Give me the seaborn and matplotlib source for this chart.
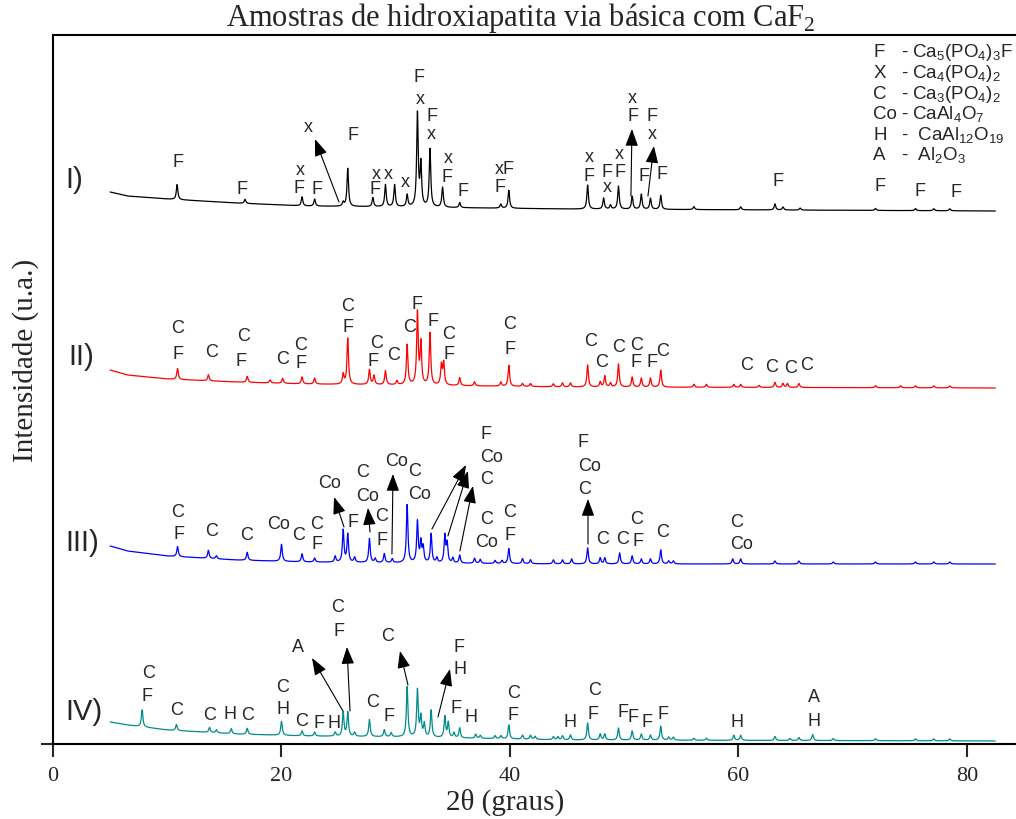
import numpy as np
import pandas as pd
import matplotlib
matplotlib.use('Agg')
import matplotlib.pyplot as plt
import seaborn as sns

sns.set_style('ticks')
plt.rcParams['font.family'] = ['Liberation Sans', 'DejaVu Sans']
SERIF = ['Liberation Serif', 'DejaVu Serif']

base_x = [5, 6.5, 10, 16, 22, 30, 45, 82.5]

base_I = [552, 548, 545, 541, 538, 537, 535, 533]
pos_I = [10.86, 16.8, 21.8, 22.9, 25.4, 25.8, 28.0, 29.1, 29.9, 31.0, 31.9, 32.2,
         33.0, 34.1, 35.6, 39.2, 39.9, 46.8, 48.2, 48.8, 49.5, 50.7, 51.5, 52.3,
         53.2, 56.1, 60.2, 63.2, 63.9, 65.4, 72.0, 75.5, 77.1, 78.5]
h_I = [15, 4, 9, 7, 4, 38, 9, 22, 22, 12, 93, 42,
       58, 20, 5, 4, 18, 24, 11, 4, 23, 13, 15, 11,
       14, 3, 3, 6, 3, 2, 2, 2, 2, 2]

base_II = [374, 369, 365, 362, 360, 359, 357, 356]
pos_II = [10.9, 13.6, 17.0, 19.0, 20.1, 21.8, 22.9, 25.4, 25.8, 27.7, 28.1, 29.1,
          30.1, 31.0, 31.9, 32.2, 33.0, 34.0, 34.2, 35.6, 36.9, 39.2, 39.9, 41.1,
          41.8, 43.8, 44.6, 45.3, 46.8, 47.9, 48.3, 48.8, 49.5, 50.7, 51.5, 52.3,
          53.2, 56.1, 57.2, 59.6, 60.2, 61.8, 63.2, 63.9, 64.3, 65.3, 72.0, 74.2,
          75.5, 77.1, 78.5]
h_II = [11, 6, 6, 3, 5, 7, 6, 10, 46, 15, 9, 14,
        4, 40, 72, 41, 52, 20, 22, 8, 4, 4, 21, 3,
        3, 3, 4, 4, 22, 5, 11, 4, 23, 10, 9, 9,
        17, 3, 3, 3, 3, 2, 5, 4, 4, 4, 2, 2,
        2, 2, 2]

base_III = [198, 193, 188, 184, 182, 181, 180, 180]
pos_III = [10.9, 13.6, 14.3, 17.0, 20.0, 21.8, 22.9, 24.7, 25.4, 25.8, 26.4, 27.7,
           28.2, 29.0, 29.7, 31.0, 31.9, 32.2, 32.4, 33.1, 33.6, 34.3, 34.5, 35.0,
           35.6, 36.9, 37.4, 38.7, 39.3, 39.9, 41.1, 41.8, 43.8, 44.6, 45.4, 46.8,
           47.9, 48.3, 49.6, 50.7, 51.5, 52.3, 53.2, 53.9, 54.3, 59.5, 60.2, 63.2,
           65.3, 68.3, 72.0, 75.5, 77.1, 78.5]
h_III = [10, 8, 3, 8, 17, 8, 4, 6, 32, 28, 5, 24,
         4, 9, 4, 58, 41, 20, 15, 29, 5, 27, 19, 5,
         8, 5, 4, 3, 3, 15, 5, 4, 4, 4, 5, 16,
         6, 6, 11, 8, 5, 5, 14, 3, 3, 5, 5, 3,
         3, 2, 2, 2, 2, 2]

base_IV = [22, 19, 14, 10, 8, 7, 4, 3]
pos_IV = [7.8, 10.8, 13.7, 14.3, 15.6, 17.0, 20.0, 21.8, 22.9, 24.7, 25.4, 25.8,
          26.4, 27.7, 29.0, 29.6, 31.0, 31.9, 32.2, 32.5, 33.1, 34.3, 34.6, 35.1,
          35.6, 37.0, 37.4, 38.7, 39.2, 39.9, 41.1, 41.8, 42.2, 43.8, 44.2, 44.6,
          45.3, 46.8, 47.9, 48.3, 49.5, 50.7, 51.5, 52.3, 53.2, 53.9, 54.3, 56.1,
          57.2, 59.6, 60.2, 63.2, 64.5, 65.3, 66.5, 68.3, 72.0, 75.5, 77.1, 78.5]
h_IV = [17, 6, 5, 3, 5, 6, 14, 5, 4, 4, 24, 24,
        4, 17, 7, 4, 50, 47, 20, 13, 27, 21, 15, 5,
        10, 4, 3, 3, 3, 14, 4, 4, 3, 3, 3, 4,
        5, 17, 6, 6, 12, 9, 6, 5, 14, 3, 3, 2,
        2, 5, 5, 4, 2, 3, 6, 2, 2, 2, 2, 2]

series = [
    ('I)', base_I, pos_I, h_I, 'black'),
    ('II)', base_II, pos_II, h_II, '#ff0000'),
    ('III)', base_III, pos_III, h_III, '#0000ff'),
    ('IV)', base_IV, pos_IV, h_IV, '#008c8c'),
]

# ---- rótulos das fases (texto, 2θ, y) ----
labels_I = [('F', 10.94, 582), ('F', 16.54, 555), ('x', 21.62, 574), ('F', 21.53, 556),
            ('F', 23.11, 555), ('x', 22.32, 617), ('F', 26.26, 609), ('x', 28.27, 570),
            ('x', 29.32, 570), ('F', 28.18, 555), ('x', 30.81, 562), ('F', 32.03, 667),
            ('x', 32.12, 645), ('F', 33.17, 628), ('x', 33.09, 610), ('x', 34.57, 586),
            ('F', 34.49, 567), ('F', 35.89, 553), ('xF', 39.56, 575), ('F', 39.12, 557),
            ('x', 46.91, 587), ('F', 46.91, 568), ('F', 48.49, 572), ('x', 48.49, 557),
            ('x', 49.54, 590), ('F', 49.63, 572), ('x', 50.68, 646), ('F', 50.77, 628),
            ('F', 52.43, 628), ('x', 52.43, 610), ('F', 51.73, 568), ('F', 53.30, 570),
            ('F', 63.46, 563), ('F', 72.39, 558), ('F', 75.89, 553), ('F', 79.04, 552)]
labels_II = [('C', 10.94, 416), ('F', 10.94, 390), ('C', 13.92, 392), ('C', 16.72, 408),
             ('F', 16.46, 383), ('C', 20.13, 385), ('C', 21.71, 399), ('F', 21.71, 381),
             ('C', 25.82, 438), ('F', 25.82, 417), ('C', 28.36, 401), ('F', 28.01, 383),
             ('C', 29.85, 389), ('C', 31.25, 417), ('F', 31.86, 440), ('F', 33.26, 423),
             ('C', 34.66, 410), ('F', 34.66, 390), ('C', 40.0, 420), ('F', 40.0, 395),
             ('C', 47.09, 403), ('C', 48.05, 382), ('C', 49.54, 397), ('C', 51.12, 399),
             ('F', 51.03, 382), ('F', 52.43, 382), ('C', 53.39, 393), ('C', 60.74, 379),
             ('C', 62.93, 377), ('C', 64.60, 376), ('C', 66.00, 379)]
labels_III = [('C', 10.94, 232), ('F', 11.03, 210), ('C', 13.92, 213), ('C', 16.98, 209),
              ('Co', 19.78, 220), ('C', 21.53, 209), ('C', 23.11, 220), ('F', 23.11, 200),
              ('Co', 24.25, 261), ('F', 26.26, 222), ('C', 27.13, 272), ('Co', 27.57, 248),
              ('C', 28.80, 228), ('F', 28.80, 204), ('Co', 30.11, 283), ('C', 31.69, 273),
              ('Co', 32.12, 250), ('F', 37.90, 310), ('Co', 38.42, 287), ('C', 37.99, 265),
              ('C', 37.99, 225), ('Co', 37.99, 202), ('C', 40.0, 232), ('F', 40.0, 209),
              ('F', 46.39, 302), ('Co', 47.0, 278), ('C', 46.56, 255), ('C', 48.14, 205),
              ('C', 49.89, 205), ('C', 51.12, 225), ('F', 51.20, 203), ('C', 53.39, 212),
              ('C', 59.87, 222), ('Co', 60.31, 200)]
labels_IV = [('C', 8.32, 71), ('F', 8.23, 48), ('C', 10.85, 34), ('C', 13.74, 29),
             ('H', 15.49, 30), ('C', 17.07, 29), ('C', 20.13, 57), ('H', 20.13, 35),
             ('C', 21.79, 23), ('F', 23.28, 21), ('H', 24.60, 21), ('A', 21.44, 97),
             ('C', 24.95, 137), ('F', 25.03, 113), ('C', 28.01, 42), ('F', 29.41, 28),
             ('C', 29.32, 108), ('F', 35.54, 97), ('H', 35.62, 75), ('F', 35.27, 36),
             ('H', 36.59, 27), ('C', 40.35, 51), ('F', 40.26, 29), ('H', 45.25, 22),
             ('C', 47.44, 54), ('F', 47.26, 30), ('F', 49.89, 32), ('F', 50.77, 27),
             ('F', 51.99, 22), ('F', 53.39, 30), ('H', 59.87, 22), ('A', 66.61, 47),
             ('H', 66.61, 23)]

# setas: (cauda, ponta)
arrows = [((25.03, 542), (22.93, 605)), ((50.59, 548), (50.68, 615)),
          ((52.08, 548), (52.60, 598)),
          ((25.47, 217), (24.60, 247)), ((27.75, 212), (27.57, 236)),
          ((29.67, 190), (29.76, 270)), ((33.17, 215), (36.15, 279)),
          ((34.57, 208), (36.32, 273)), ((35.62, 193), (36.76, 258)),
          ((46.83, 200), (46.83, 245)),
          ((25.38, 33), (22.67, 86)), ((26.00, 33), (25.73, 97)),
          ((31.07, 59), (30.37, 93)), ((33.70, 27), (34.75, 75))]

series_label_pos = [(1.05, 565), (1.3, 388), (1.05, 202), (1.05, 33)]

legend_rows = [('F', '- Ca$_{\\mathregular{5}}$(PO$_{\\mathregular{4}}$)$_{\\mathregular{3}}$F'),
               ('X', '- Ca$_{\\mathregular{4}}$(PO$_{\\mathregular{4}}$)$_{\\mathregular{2}}$'),
               ('C', '- Ca$_{\\mathregular{3}}$(PO$_{\\mathregular{4}}$)$_{\\mathregular{2}}$'),
               ('Co', '- CaAl$_{\\mathregular{4}}$O$_{\\mathregular{7}}$'),
               ('H', '-  CaAl$_{\\mathregular{12}}$O$_{\\mathregular{19}}$'),
               ('A', '-  Al$_{\\mathregular{2}}$O$_{\\mathregular{3}}$')]

# ---- figura ----
fig = plt.figure(figsize=(10.16, 8.2), dpi=100)
ax = fig.add_axes([0.0522, 0.0915, 0.9478, 0.8646])

grid = np.arange(5.0, 82.5, 0.01)
w = 0.08
for (name, base, pos, hts, col) in series:
    y = np.interp(grid, base_x, base)
    for p, h in zip(pos, hts):
        y = y + h * w**2 / ((grid - p)**2 + w**2)
    df = pd.DataFrame({'2theta': grid, 'I': y})
    sns.lineplot(data=df, x='2theta', y='I', color=col, lw=0.9,
                 estimator=None, sort=False, ax=ax)

for lst in (labels_I, labels_II, labels_III, labels_IV):
    for t, x, yy in lst:
        ax.text(x, yy, t, ha='center', va='center', fontsize=13)

for tail, head in arrows:
    ax.annotate('', xy=head, xytext=tail,
                arrowprops=dict(arrowstyle='-|>,head_length=0.75,head_width=0.28',
                                color='black', lw=0.8, shrinkA=0, shrinkB=0,
                                mutation_scale=14))

for (name, *_), (x, yy) in zip(series, series_label_pos):
    ax.text(x, yy, name, ha='left', va='center', fontsize=21)

for i, (sym, txt) in enumerate(legend_rows):
    yy = 692 - i * 20.6
    ax.text(71.8, yy, sym, ha='left', va='center', fontsize=13.5)
    ax.text(74.2, yy, txt, ha='left', va='center', fontsize=13.5)

ax.set_xlim(0, 84.3)
ax.set_ylim(0, 709)
ax.set_xticks([0, 20, 40, 60, 80])
ax.set_yticks([0])
ax.set_yticklabels([''])
ax.set_xlabel('')
ax.set_ylabel('')
for lab in ax.get_xticklabels():
    lab.set_fontfamily(SERIF)
    lab.set_fontsize(16)
ax.tick_params(axis='both', direction='out', length=9, width=1.5, pad=7)
ax.spines['right'].set_visible(False)
for s in ('left', 'bottom', 'top'):
    ax.spines[s].set_linewidth(1.5)
    ax.spines[s].set_color('black')

fig.text(0.513, 0.978, 'Amostras de hidroxiapatita via básica com CaF$_{\\mathregular{2}}$',
         ha='center', va='center', fontsize=22, family=SERIF)
fig.text(0.497, 0.021, '2θ (graus)', ha='center', va='center', fontsize=21, family=SERIF)
fig.text(0.025, 0.561, 'Intensidade (u.a.)', ha='center', va='center', rotation=90,
         fontsize=21, family=SERIF)

fig.savefig('out.png', dpi=100)
